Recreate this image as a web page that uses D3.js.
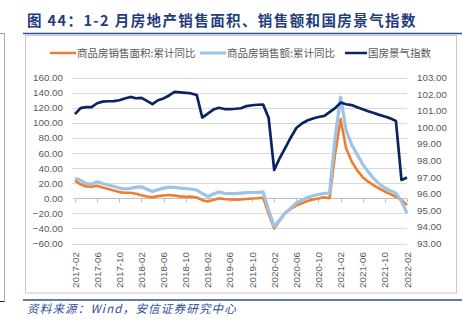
<!DOCTYPE html>
<html><head><meta charset="utf-8">
<script src="https://cdn.jsdelivr.net/npm/d3@7/dist/d3.min.js"></script>
<style>
html,body{margin:0;padding:0;background:#fff;}
svg{display:block;}
</style></head>
<body>
<svg id="c" width="462" height="327"></svg>
<script>
const months = ["2017-02","2017-03","2017-04","2017-05","2017-06","2017-07","2017-08","2017-09","2017-10","2017-11","2017-12",
"2018-01","2018-02","2018-03","2018-04","2018-05","2018-06","2018-07","2018-08","2018-09","2018-10","2018-11","2018-12",
"2019-01","2019-02","2019-03","2019-04","2019-05","2019-06","2019-07","2019-08","2019-09","2019-10","2019-11","2019-12",
"2020-01","2020-02","2020-03","2020-04","2020-05","2020-06","2020-07","2020-08","2020-09","2020-10","2020-11","2020-12",
"2021-01","2021-02","2021-03","2021-04","2021-05","2021-06","2021-07","2021-08","2021-09","2021-10","2021-11","2021-12",
"2022-01","2022-02"];
const tickLabels = ["2017-02","2017-06","2017-10","2018-02","2018-06","2018-10","2019-02","2019-06","2019-10","2020-02","2020-06","2020-10","2021-02","2021-06","2021-10","2022-02"];
const areaYoY = [23.3,18.5,15.7,15.4,16.6,14.3,12.4,10.2,8.2,7.4,7.4,
5.9,4.1,2.5,1.4,2.9,3.8,4.3,3.5,2.6,2.0,2.3,1.0,
-2.5,-4.3,-2.3,-0.1,-1.0,-1.5,-1.8,-1.5,-0.9,-0.3,0.1,0.8,
-21,-40,-29.5,-19,-14,-9.5,-6.5,-3.5,-1.5,-0.2,1.3,0,
58,105,66,49,37,28,22,17,13,9,5.5,2,
-2.2,-9];
const salesYoY = [26.5,24,19.5,18.9,21.8,19.6,17.7,15.9,13.6,12.3,13.2,
14.7,15.2,12,9,11.5,13.5,14.8,14.5,13.5,13,12,11,
6.3,2.5,5.7,8.5,6.5,6.3,6.2,6.8,7.4,7.7,7.9,8.5,
-16,-37.5,-28.5,-19.5,-13,-6,-2.5,1,3.3,5,6.6,7,
80,134,90,71,58,45,35,26,19,14,10,6.8,
-4,-20];
const climateIdx = [100.80,101.16,101.22,101.22,101.45,101.55,101.57,101.58,101.63,101.74,101.83,
101.75,101.77,101.59,101.40,101.63,101.74,101.92,102.13,102.11,102.08,102.04,101.95,
100.59,100.83,101.07,101.18,101.10,101.10,101.12,101.15,101.28,101.33,101.36,101.37,
100.56,97.43,98.15,98.76,99.39,99.96,100.23,100.41,100.53,100.62,100.68,100.92,
101.15,101.49,101.39,101.34,101.21,101.09,100.97,100.86,100.75,100.65,100.54,100.38,
96.83,96.98];
const leftTicks = [160,140,120,100,80,60,40,20,0,-20,-40,-60];
const rightTicks = [103,102,101,100,99,98,97,96,95,94,93];
const seriesNames = ["商品房销售面积:累计同比","商品房销售额:累计同比","国房景气指数"];
const colors = ["#ED7D31","#9DC3E6","#0A2463"];

const svg = d3.select("#c");
const X0 = 75, X1 = 407, YT = 77.5, YB = 243.6;
const x = d3.scaleLinear().domain([0, months.length - 1]).range([X0, X1]);
const yL = d3.scaleLinear().domain([-60, 160]).range([YB, YT]);
const yR = d3.scaleLinear().domain([93, 103]).range([YB, YT]);

// page decorations
svg.append("line").attr("x1",0).attr("x2",4.5).attr("y1",33.5).attr("y2",33.5).attr("stroke","#999");
svg.append("line").attr("x1",4.5).attr("x2",4.5).attr("y1",33.5).attr("y2",301).attr("stroke","#aaa");
svg.append("line").attr("x1",0).attr("x2",4.5).attr("y1",301.5).attr("y2",301.5).attr("stroke","#222");
// frame
svg.append("rect").attr("x",25.5).attr("y",35.5).attr("width",431).attr("height",257.5)
  .attr("fill","none").attr("stroke","#c8c8c8").attr("stroke-width",1);
// title
svg.append("text").attr("x",27).attr("y",26).attr("font-family","'Noto Sans CJK SC',sans-serif")
  .attr("font-size",14.5).attr("font-weight","bold").attr("fill","#1F3C7D").attr("letter-spacing",1.4)
  .text("图 44：1-2 月房地产销售面积、销售额和国房景气指数");
svg.append("line").attr("x1",23).attr("x2",462).attr("y1",33.5).attr("y2",33.5).attr("stroke","#2E4D99").attr("stroke-width",1.6);
svg.append("line").attr("x1",23).attr("x2",462).attr("y1",300).attr("y2",300).attr("stroke","#2E4D99").attr("stroke-width",1.6);
svg.append("text").attr("x",27).attr("y",313).attr("font-family","'Noto Sans CJK SC',sans-serif")
  .attr("font-size",11.5).attr("font-style","italic").attr("fill","#2E4D99").attr("letter-spacing",1.2)
  .text("资料来源：Wind，安信证券研究中心");

// gridlines
const g = svg.append("g");
g.selectAll("line.grid").data(leftTicks).join("line").attr("class","grid")
  .attr("x1",X0-3).attr("x2",X1).attr("y1",d=>Math.round(yL(d))+0.5).attr("y2",d=>Math.round(yL(d))+0.5)
  .attr("stroke","#d9d9d9").attr("stroke-width",1);
// zero axis with ticks
g.append("line").attr("x1",X0).attr("x2",X1).attr("y1",Math.round(yL(0))+0.5).attr("y2",Math.round(yL(0))+0.5)
  .attr("stroke","#bfbfbf");
g.selectAll("line.xt").data(tickLabels).join("line").attr("class","xt")
  .attr("x1",d=>Math.round(x(months.indexOf(d)))+0.5).attr("x2",d=>Math.round(x(months.indexOf(d)))+0.5)
  .attr("y1",Math.round(yL(0))+0.5).attr("y2",Math.round(yL(0))+4.5).attr("stroke","#bfbfbf");

// axis labels
const lab = {family:"'Liberation Sans',Arial,sans-serif", size:9.8, fill:"#595959"};
g.selectAll("text.yl").data(leftTicks).join("text").attr("class","yl")
  .attr("x",63).attr("y",d=>yL(d)+3.5).attr("text-anchor","end")
  .attr("font-family",lab.family).attr("font-size",lab.size).attr("fill",lab.fill)
  .text(d=>d3.format(".2f")(d));
g.selectAll("text.yr").data(rightTicks).join("text").attr("class","yr")
  .attr("x",417).attr("y",d=>yR(d)+3.5).attr("text-anchor","start")
  .attr("font-family",lab.family).attr("font-size",lab.size).attr("fill",lab.fill)
  .text(d=>d3.format(".2f")(d));
g.selectAll("text.xl").data(tickLabels).join("text").attr("class","xl")
  .attr("transform",d=>`translate(${x(months.indexOf(d))+3.5},252) rotate(-90)`)
  .attr("text-anchor","end")
  .attr("font-family",lab.family).attr("font-size",lab.size).attr("fill",lab.fill)
  .text(d=>d);

// lines
const lineL = d3.line().x((d,i)=>x(i)).y(d=>yL(d));
const lineR = d3.line().x((d,i)=>x(i)).y(d=>yR(d));
svg.append("path").attr("d",lineL(areaYoY)).attr("fill","none").attr("stroke",colors[0]).attr("stroke-width",2.6).attr("stroke-linejoin","round");
svg.append("path").attr("d",lineL(salesYoY)).attr("fill","none").attr("stroke",colors[1]).attr("stroke-width",3.2).attr("stroke-linejoin","round");
svg.append("path").attr("d",lineR(climateIdx)).attr("fill","none").attr("stroke",colors[2]).attr("stroke-width",2.7).attr("stroke-linejoin","round");

// legend
const legX = [50, 200, 345];
const leg = svg.append("g");
seriesNames.forEach((n,i)=>{
  leg.append("line").attr("x1",legX[i]).attr("x2",legX[i]+(i==2?22:26)).attr("y1",53).attr("y2",53)
    .attr("stroke",colors[i]).attr("stroke-width",i==1?3:2.5);
  leg.append("text").attr("x",legX[i]+(i==2?23:27)).attr("y",56.8)
    .attr("font-family","'Noto Sans CJK SC',sans-serif").attr("font-size",10.5).attr("fill","#595959")
    .text(n);
});
</script>
</body></html>
